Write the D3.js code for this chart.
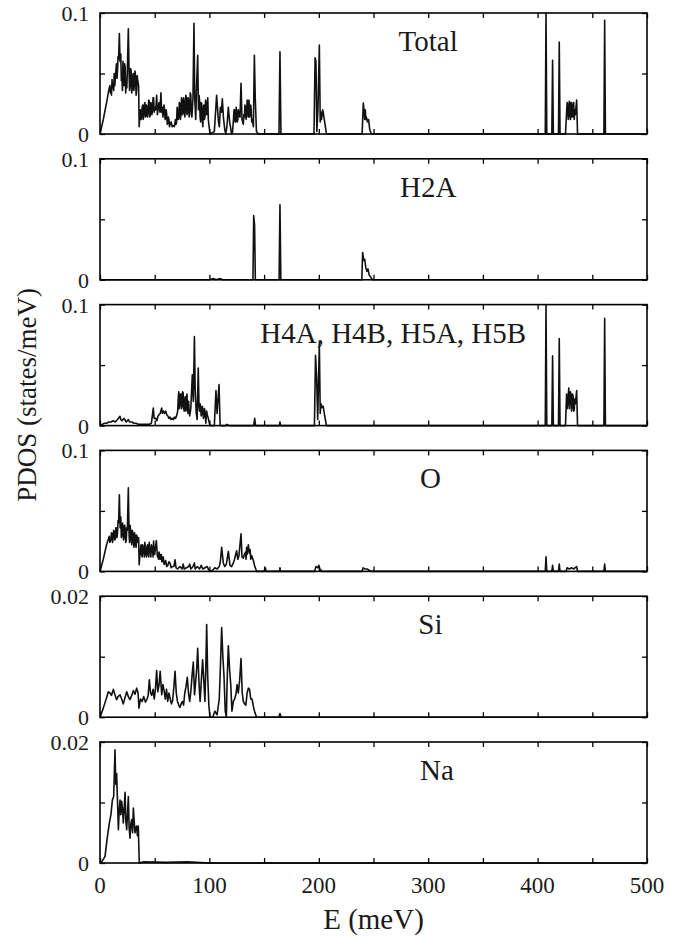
<!DOCTYPE html>
<html>
<head>
<meta charset="utf-8">
<script src="https://cdn.jsdelivr.net/npm/d3@7"></script>
<style>
  body { margin: 0; background: #fff; }
  svg { display: block; }
  text { font-family: "Liberation Serif", "Tinos", "DejaVu Serif", serif; fill: #1a1a1a; }
</style>
</head>
<body>
<svg id="chart" width="682" height="937"></svg>
<script>
// panel setup
const panelLabels = ["Total", "H2A", "H4A, H4B, H5A, H5B", "O", "Si", "Na"];
const panelMax = [0.1, 0.1, 0.1, 0.1, 0.02, 0.02];
const panelTickLabels = [["0", "0.1"], ["0", "0.1"], ["0", "0.1"], ["0", "0.1"], ["0", "0.02"], ["0", "0.02"]];
const labelEnergy = [300, 300, 268, 302, 302, 308];
const energyTicks = [0, 100, 200, 300, 400, 500];

// [E (meV), PDOS (states/meV)]
const totalPDOS = [
  [0,0],[3,0.012],[6,0.026],[8,0.036],[9,0.040],[9.5,0.034],[10,0.038],[10.5,0.032],[11,0.045],[11.5,0.038],
  [12,0.042],[12.5,0.036],[13,0.050],[13.5,0.040],[14,0.046],[14.5,0.052],[15,0.058],[15.5,0.046],[16,0.052],
  [16.5,0.064],[17,0.062],[17.7,0.083],[18.3,0.060],[19,0.066],[19.5,0.044],[20,0.050],[20.5,0.036],[21,0.060],
  [21.5,0.046],[22,0.040],[22.5,0.058],[23,0.055],[23.5,0.034],[24,0.044],[24.5,0.038],[25,0.052],[25.9,0.087],
  [26.6,0.050],[27,0.036],[27.5,0.040],[28,0.054],[28.5,0.052],[29,0.034],[29.5,0.038],[30,0.048],[30.5,0.050],
  [31,0.036],[31.5,0.042],[32,0.052],[32.5,0.048],[33,0.032],[33.5,0.036],[34,0.048],[34.5,0.044],[35.3,0.040],
  [35.8,0.006],[36.5,0.016],[37,0.020],[37.5,0.012],[38,0.014],[38.5,0.022],[39,0.024],[39.5,0.012],[40,0.016],
  [40.5,0.024],[41,0.026],[41.5,0.014],[42,0.015],[42.5,0.024],[43,0.022],[43.5,0.014],[44,0.018],[44.5,0.028],
  [45,0.027],[45.5,0.014],[46,0.016],[46.5,0.026],[47,0.025],[47.5,0.016],[48,0.020],[48.5,0.030],[49,0.030],
  [49.5,0.018],[50,0.022],[51,0.020],[51.8,0.032],[52.5,0.016],[53,0.020],[54,0.026],[54.8,0.018],[55.7,0.034],
  [56.3,0.018],[57,0.022],[57.5,0.014],[58,0.018],[58.5,0.024],[59,0.020],[59.5,0.012],[60,0.014],[60.5,0.020],
  [61,0.016],[61.5,0.008],[62,0.010],[62.5,0.014],[63,0.012],[63.5,0.006],[64,0.008],[65,0.010],[66,0.006],
  [67,0.007],[68,0.006],[69,0.012],[69.5,0.008],[70,0.010],[70.5,0.022],[71,0.020],[71.5,0.012],[72,0.014],
  [72.5,0.026],[73,0.025],[73.5,0.012],[74,0.016],[74.5,0.030],[75,0.028],[75.5,0.016],[76,0.018],[76.5,0.030],
  [77,0.026],[77.5,0.014],[78,0.020],[78.5,0.032],[79,0.030],[79.5,0.016],[80,0.018],[80.5,0.030],[81,0.028],
  [81.5,0.014],[82,0.020],[82.5,0.034],[83,0.032],[83.5,0.016],[84,0.014],[85,0.030],[85.9,0.0915],[86.6,0.030],
  [87.5,0.012],[88.3,0.040],[89.3,0.065],[90,0.020],[90.5,0.032],[91,0.028],[91.5,0.014],[92,0.010],[92.5,0.026],
  [93,0.025],[93.5,0.012],[94,0.006],[94.5,0.022],[95,0.024],[95.5,0.012],[96,0.015],[96.5,0.028],[97,0.026],
  [97.5,0.016],[98,0.020],[98.5,0.030],[99,0.012],[100.5,0],
  [104.5,0.002],[106.6,0.032],[107.5,0.020],[108.3,0.010],[109.1,0.006],[110,0.022],[111,0.018],
  [111.8,0.029],[112.8,0.014],[114,0.004],[114.9,0],[116,0.006],[117.3,0.022],[118.5,0.010],[120.3,0],
  [121,0],[122,0.012],[122.5,0.020],[123,0.020],[123.5,0.010],[124,0.010],[124.5,0.022],[125,0.018],[125.5,0.010],
  [126,0.012],[126.5,0.020],[127,0.016],[128,0.014],[128.9,0.042],[129.8,0.012],[131,0.008],[131.5,0.016],
  [132,0.014],[132.5,0.024],[133,0.022],[133.5,0.012],[134,0.016],[134.5,0.028],[135,0.026],[135.5,0.014],
  [136.2,0.028],[136.7,0.014],[137.2,0.016],[137.7,0.024],[138.2,0.020],[138.7,0.010],[139.2,0.012],
  [140.2,0.006],[141.1,0.065],[141.9,0.030],[143,0.002],[145,0],
  [163.6,0],[164.5,0.068],[165.4,0],[195.6,0],[196.6,0.063],[197.4,0.060],[198.2,0.002],[199.2,0.020],
  [200.5,0.0735],[201.3,0.010],[202,0.018],[202.5,0.012],[203,0.016],[203.5,0.020],[204,0.018],[205,0.012],[207,0],
  [239.6,0],[240.7,0.0255],[241.5,0.018],[242,0.012],[242.5,0.020],[243,0.012],[243.5,0.014],[244.5,0.010],
  [245.5,0.012],[246.5,0.004],[248,0],[407,0],[407.7,0.1],[408.4,0],[413,0],[413.7,0.061],[414.4,0],[419.1,0],
  [419.8,0.076],[420.5,0],[425.5,0],[426.5,0.018],[427,0.026],[427.5,0.025],[428,0.012],[428.5,0.015],
  [429,0.027],[429.5,0.026],[430,0.012],[430.5,0.014],[431,0.026],[431.5,0.024],[432,0.014],[432.5,0.020],
  [433,0.026],[433.5,0.012],[434,0.020],[434.5,0.016],[435.7,0.028],[436.5,0],[460.6,0],
  [461.3,0.094],[462,0],[500,0]
];

const h2aPDOS = [
  [0,0],[100,0],[104,0.001],[106,0],[110,0.001],[112,0],[139.8,0],[140.5,0.053],[141.3,0.045],[142,0],
  [163.7,0],[164.5,0.062],[165.3,0],[239.3,0],[240.1,0.0226],[241,0.016],[242,0.017],[243,0.010],
  [244,0.007],[245,0.009],[246,0.004],[247,0.003],[249,0],[500,0]
];

const h4h5PDOS = [
  [0,0],[2,0.001],[4,0.002],[6,0.002],[8,0.003],[10,0.003],[12,0.004],[14,0.003],[16,0.005],[18.3,0.0077],
  [19,0.005],[20,0.004],[22,0.006],[24,0.003],[25.9,0.005],[27,0.003],[29,0.003],[31,0.002],[33,0.002],
  [35,0.001],[40,0.001],[45,0.001],[47,0.002],[48.7,0.0145],[49.5,0.006],[51,0.006],[52,0.004],[53,0.008],
  [55,0.010],[56.4,0.0145],[57,0.010],[58,0.012],[59,0.010],[60,0.012],[61,0.009],[62,0.008],[63,0.006],[64,0.007],
  [65,0.005],[66,0.006],[67,0.005],[68,0.007],[69,0.006],[70,0.008],[71,0.012],[71.5,0.022],[72,0.028],[72.5,0.014],
  [73,0.018],[73.5,0.026],[74,0.026],[74.5,0.014],[75,0.016],[75.5,0.028],[76,0.027],[76.5,0.014],[77,0.012],
  [77.5,0.022],[78,0.024],[78.5,0.012],[79,0.018],[79.5,0.026],[80,0.014],[80.5,0.010],[81,0.020],[81.5,0.012],
  [82,0.008],[83,0.014],[84.4,0.042],[85.3,0.020],[86.3,0.0735],[87,0.030],[88,0.010],[88.8,0.005],[89.8,0.0475],
  [90.5,0.016],[91,0.012],[91.5,0.018],[92,0.015],[92.5,0.008],[93,0.010],[93.5,0.016],[94,0.013],[94.5,0.006],
  [95,0.008],[95.5,0.014],[96,0.011],[96.7,0.002],[97.5,0.012],[98,0.009],[99,0.006],[100.5,0],[104.5,0],
  [106,0.029],[107,0.010],[108.8,0.034],[109.8,0],[115,0],[116,0.001],
  [118,0],[140.5,0],[141.4,0.006],[142.2,0],[164,0],[164.5,0.003],[165,0],[196,0],[197,0.058],
  [198,0.040],[199,0.005],[200.5,0.068],[201.3,0.010],[202,0.018],[203,0.015],[204,0.016],[205,0.010],
  [207,0],[407,0],[407.7,0.1],[408.4,0],[413,0],[413.7,0.0576],[414.4,0],[419.1,0],[419.8,0.072],
  [420.5,0],[425.5,0],[426.5,0.026],[427,0.014],[427.5,0.018],[428,0.024],[428.5,0.031],[429,0.014],[429.5,0.020],
  [430,0.028],[430.5,0.026],[431,0.012],[431.5,0.015],[432,0.026],[432.5,0.024],[433,0.012],[433.5,0.013],
  [434,0.022],[434.5,0.018],[435.7,0.029],[436.5,0],[460.6,0],[461.3,0.0886],[462,0],[500,0]
];

const oxygenPDOS = [
  [0,0],[3,0.010],[6,0.022],[8.5,0.029],[9,0.024],[10,0.026],[10.5,0.032],[11,0.031],[11.5,0.024],[12,0.028],
  [12.5,0.034],[13,0.033],[13.5,0.026],[14,0.027],[14.5,0.036],[15,0.036],[15.5,0.028],[16,0.032],[16.5,0.042],
  [17,0.040],[17.7,0.0634],[18.4,0.036],[19,0.045],[19.5,0.028],[20,0.030],[20.5,0.040],[21,0.038],[21.5,0.026],
  [22,0.028],[22.5,0.038],[23,0.036],[23.5,0.024],[24,0.026],[24.5,0.036],[25,0.034],[25.9,0.069],[26.6,0.030],
  [27,0.024],[27.5,0.038],[28,0.034],[28.5,0.026],[29,0.022],[29.5,0.034],[30,0.032],[30.5,0.025],[31,0.020],
  [31.5,0.032],[32,0.030],[32.5,0.022],[33,0.020],[33.5,0.030],[34,0.028],[34.5,0.024],[35.3,0.028],
  [35.8,0.0055],[36.5,0.014],[37,0.018],[37.5,0.022],[38,0.014],[38.5,0.012],[39,0.022],[39.5,0.020],[40,0.016],
  [40.5,0.012],[41,0.024],[41.5,0.020],[42,0.014],[42.5,0.012],[43,0.020],[43.5,0.022],[44,0.015],[44.5,0.012],
  [45,0.024],[45.5,0.018],[46,0.016],[46.5,0.012],[47,0.022],[47.5,0.020],[48,0.018],[48.5,0.012],[49,0.025],
  [49.5,0.016],[50,0.014],[50.5,0.018],[51.5,0.0255],[52.5,0.012],[53,0.015],[53.5,0.010],[54,0.016],
  [54.5,0.012],[55,0.010],[55.5,0.014],[56,0.014],[56.5,0.008],[57,0.008],[57.5,0.012],[58,0.011],[58.5,0.006],
  [59,0.006],[60,0.009],[61,0.004],[62,0.005],[63,0.008],[64,0.007],[65,0.003],[66,0.004],[67.5,0.004],
  [68.6,0.0095],[69.5,0.003],[71,0.002],[73,0.004],[75,0.002],[76,0.006],[77,0.002],[79,0.003],[81,0.004],
  [82,0.006],[83,0.002],[85,0.004],[86.3,0.007],[87,0.002],[89,0.004],[91,0.002],[92.5,0.005],[94,0.002],
  [96,0.003],[98,0.004],[99,0.002],[100.5,0],[103,0.001],[105,0.003],[107,0.002],[109,0.004],[110,0.008],
  [111.2,0.020],[112.7,0.007],[114,0.004],[115.5,0.006],[117.3,0.0165],[118.8,0.005],[120.3,0.004],
  [121.9,0.007],[123,0.010],[124,0.014],[124.9,0.017],[126,0.010],[127,0.013],[128.9,0.031],[129.8,0.012],
  [131,0.011],[132,0.014],[133,0.016],[133.5,0.010],[134,0.020],[134.5,0.014],[135.6,0.022],[136.5,0.015],
  [137.2,0.018],[137.8,0.010],[138.7,0.013],[140.2,0.009],[141.5,0.004],[143.2,0],[150,0],[151,0.003],[152,0],
  [164,0],[164.5,0.003],[165,0],[196,0],[197.5,0.004],[199,0.003],[200,0.005],[201,0.002],[203,0],[239.5,0],
  [240.5,0.003],[242,0.002],[244,0.002],[246,0.001],[248,0],[407,0],[407.7,0.012],[408.4,0],[413,0],
  [413.7,0.005],[414.4,0],[419.1,0],[419.8,0.006],[420.5,0],[426,0],[427,0.003],[429,0.002],[431,0.003],
  [433,0.002],[435.7,0.004],[436.5,0],[460.6,0],[461.3,0.006],[462,0],[500,0]
];

const siliconPDOS = [
  [0,0],[3,0.0015],[6,0.0032],[7.6,0.0042],[9.1,0.0040],[10.5,0.0036],[12.2,0.0046],[13.5,0.0038],
  [15.2,0.0029],[16.5,0.0034],[18.3,0.0037],[19.8,0.0030],[21.3,0.0022],[22.8,0.0032],[24.4,0.0042],
  [25.9,0.0034],[27.4,0.0029],[29,0.0036],[30.5,0.0044],[32,0.0038],[33.5,0.0048],[34.8,0.0040],
  [35.6,0.0015],[37,0.0030],[38.5,0.0026],[40,0.0034],[41.5,0.0025],[43,0.0030],[44,0.0036],[45.1,0.0062],
  [46.2,0.0040],[47.3,0.0036],[48.5,0.0046],[49.6,0.0030],[50.7,0.0048],[51.8,0.0077],[52.8,0.0042],
  [54,0.0054],[55,0.0076],[56.4,0.0037],[57.5,0.0054],[58.6,0.0044],[59.7,0.0030],[60.8,0.0046],
  [61.9,0.0026],[63,0.0040],[64.2,0.0030],[65.3,0.0022],[66.4,0.0028],[67.5,0.0050],[68.6,0.0076],
  [69.7,0.0040],[70.8,0.0026],[72,0.0020],[73,0.0016],[74.2,0.0022],[75.3,0.0026],[76.4,0.0020],
  [77.5,0.0040],[78.6,0.0050],[79.8,0.0066],[80.9,0.0040],[82,0.0026],[83.1,0.0044],[84.2,0.0070],
  [85.3,0.0091],[86.4,0.0037],[87.5,0.0060],[88.4,0.0080],[89.3,0.0114],[90.4,0.0060],[91.5,0.0026],
  [92.6,0.0060],[93.8,0.0095],[94.9,0.0060],[95.9,0.0026],[96.7,0.0080],[97.5,0.0153],[98.4,0.0070],
  [99.5,0.0020],[100.5,0],[103,0],[105,0.0010],[107,0.0004],[109,0.0030],[110,0.0080],[111.2,0.0148],
  [112.3,0.0100],[113.3,0.0070],[114.5,0.0010],[115.5,0],[116.2,0.0060],[117.3,0.0118],[118.4,0.0080],
  [119.5,0.0054],[120.6,0.0010],[121.9,0.0026],[123,0.0030],[124.2,0.0037],[125.3,0.0054],[126.4,0.0040],
  [127.6,0.0060],[128.9,0.0097],[130,0.0040],[131,0.0026],[132.2,0.0022],[133.3,0.0020],[134.5,0.0040],
  [135.6,0.0048],[136.7,0.0046],[137.8,0.0030],[139,0.0030],[140.2,0.0018],[141.5,0.0008],[143.2,0],
  [163.5,0],[164.5,0.0006],[165.5,0],[500,0]
];

const sodiumPDOS = [
  [0,0],[2,0.0003],[4.6,0.0011],[6.5,0.0040],[8.5,0.0066],[10,0.0080],[11.3,0.0104],[12.5,0.0110],
  [13.7,0.0187],[14.4,0.0130],[15.2,0.0148],[15.8,0.0113],[16.8,0.0055],[17.5,0.0085],[18.3,0.0104],
  [19,0.0080],[19.8,0.0102],[20.5,0.0090],[21.3,0.0066],[22.1,0.0090],[22.9,0.0117],[23.6,0.0070],
  [24.4,0.0055],[25.1,0.0080],[25.9,0.0110],[26.6,0.0060],[27.4,0.0041],[28.2,0.0065],[29,0.0072],
  [29.8,0.0050],[30.5,0.0091],[31.2,0.0070],[32,0.0050],[32.8,0.0058],[33.5,0.0061],[34.2,0.0045],
  [35,0.0061],[35.9,0],[40,0.0002],[60,0.0001],[80,0.0002],[100,0],[500,0]
];

const seriesData = [totalPDOS, h2aPDOS, h4h5PDOS, oxygenPDOS, siliconPDOS, sodiumPDOS];

const svg = d3.select("#chart");
const left = 100, plotW = 547;
const firstTop = 13, panelStep = 145.8, panelH = 121;

const x = d3.scaleLinear().domain([0, 500]).range([left, left + plotW]);

svg.append("defs").append("clipPath").attr("id", "plotClip")
  .append("rect").attr("x", left).attr("y", 0).attr("width", plotW).attr("height", 937);

seriesData.forEach((data, i) => {
  const top = firstTop + i * panelStep;
  const y = d3.scaleLinear().domain([0, panelMax[i]]).range([top + panelH, top]);
  const g = svg.append("g");
  const yTicks = [0, panelMax[i] / 2, panelMax[i]];
  const xTicks = d3.range(0, 501, 50);

  // data line
  const line = d3.line().x((d) => x(d[0])).y((d) => Math.max(top, y(d[1])));
  g.append("path")
    .datum(data)
    .attr("clip-path", "url(#plotClip)")
    .attr("fill", "none")
    .attr("stroke", "#111")
    .attr("stroke-width", 1.6)
    .attr("stroke-linejoin", "round")
    .attr("d", line);

  // inward ticks all round
  const tickLen = 5;
  const axisStyle = (sel) => {
    sel.select(".domain").remove();
    sel.selectAll("line").attr("stroke", "#000").attr("stroke-width", 1.3);
  };
  g.append("g").attr("transform", `translate(0,${top + panelH})`)
    .call(d3.axisBottom(x).tickValues(xTicks).tickSize(-tickLen).tickFormat(""))
    .call(axisStyle);
  g.append("g").attr("transform", `translate(0,${top})`)
    .call(d3.axisTop(x).tickValues(xTicks).tickSize(-tickLen).tickFormat(""))
    .call(axisStyle);
  g.append("g").attr("transform", `translate(${left},0)`)
    .call(d3.axisLeft(y).tickValues(yTicks).tickSize(-tickLen).tickFormat(""))
    .call(axisStyle);
  g.append("g").attr("transform", `translate(${left + plotW},0)`)
    .call(d3.axisRight(y).tickValues(yTicks).tickSize(-tickLen).tickFormat(""))
    .call(axisStyle);

  // frame
  g.append("rect")
    .attr("x", left).attr("y", top)
    .attr("width", plotW).attr("height", panelH)
    .attr("fill", "none").attr("stroke", "#000").attr("stroke-width", 1.6);

  // y tick labels
  [0, panelMax[i]].forEach((v, k) => {
    g.append("text")
      .attr("x", left - 11)
      .attr("y", y(v) + 8)
      .attr("text-anchor", "end")
      .attr("font-size", 22)
      .text(panelTickLabels[i][k]);
  });

  // panel label
  g.append("text")
    .attr("x", x(labelEnergy[i]))
    .attr("y", top + 38)
    .attr("text-anchor", "middle")
    .attr("font-size", 29)
    .text(panelLabels[i]);

  // x tick labels on bottom panel only
  if (i === seriesData.length - 1) {
    g.selectAll(".xl").data(energyTicks).join("text")
      .attr("x", (d) => x(d))
      .attr("y", top + panelH + 30)
      .attr("text-anchor", "middle")
      .attr("font-size", 23)
      .text((d) => d);
  }
});

// axis titles
svg.append("text")
  .attr("x", x(250))
  .attr("y", 929)
  .attr("text-anchor", "middle")
  .attr("font-size", 29)
  .text("E (meV)");

svg.append("text")
  .attr("transform", "translate(36,395) rotate(-90)")
  .attr("text-anchor", "middle")
  .attr("font-size", 27)
  .text("PDOS (states/meV)");
</script>
</body>
</html>
